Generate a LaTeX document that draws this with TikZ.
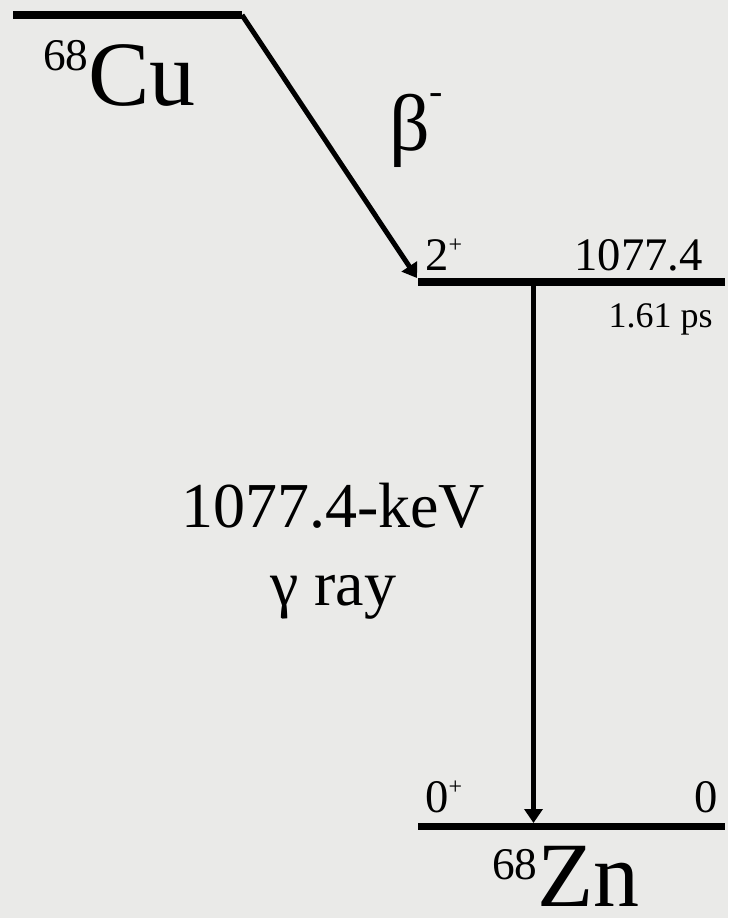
\documentclass[tikz,border=0pt]{standalone}
\usepackage{fontspec}
\usepackage{xcolor}
\usetikzlibrary{arrows.meta,positioning}
\setmainfont{Liberation Serif}
\definecolor{paper}{RGB}{234,234,232}
\newcommand{\chg}[1]{{\fontsize{18}{18}\selectfont\raisebox{13pt}{#1}}}
\newcommand{\massno}[2]{{\fontsize{34}{34}\selectfont\raisebox{#1}{#2}}}

\begin{document}
\begin{tikzpicture}[
    x=0.75pt, y=-0.75pt,
    level/.style={line width=5.6pt},
    trans/.style={line width=3.75pt, -{Triangle[length=10.5pt, width=13.5pt]}},
    big/.style={inner sep=0pt, font=\fontsize{69}{69}\selectfont},
    lbl/.style={inner sep=0pt, font=\fontsize{35}{35}\selectfont},
]
    \fill[paper] (0,0) rectangle (728,918);
    % levels
    \coordinate (cuL) at (13,15);
    \coordinate (cuR) at (242,15);
    \coordinate (exL) at (418,282);
    \coordinate (exR) at (725,282);
    \coordinate (gsL) at (418,826.5);
    \coordinate (gsR) at (725,826.5);
    \coordinate (betaend) at (417,278);
    \coordinate (gtop) at (533.5,282);
    \coordinate (gend) at (533.5,823);
    \draw[level] (cuL) -- (cuR);
    \draw[level] (exL) -- (exR);
    \draw[level] (gsL) -- (gsR);
    \draw[trans] (cuR) -- (betaend);
    \draw[trans] (gtop) -- (gend);

    \node[big, anchor=base west] (cu) at (43,105) {\massno{26pt}{68}Cu};
    \node[big, anchor=base west] (zn) at (492,906) {\massno{20pt}{68}Zn};
    \node[inner sep=0pt, anchor=base west, font=\fontsize{60}{60}\selectfont] (beta) at (389,150) {β\raisebox{34pt}{\fontsize{30}{30}\selectfont-}};
    \node[lbl, anchor=base west] (spin2) at (425,270) {2\chg{+}};
    \node[lbl, anchor=base east] (e2) at (703,270) {1077.4};
    \node[inner sep=0pt, anchor=base east, font=\fontsize{27}{27}\selectfont] (life) at (713,327) {1.61 ps};
    \node[lbl, anchor=base west] (spin0) at (425,812) {0\chg{+}};
    \node[lbl, anchor=base east] (e0) at (718,812) {0};
    \node[inner sep=0pt, anchor=base, align=center, font=\fontsize{48}{58}\selectfont] (gline) at (333,605) {1077.4-keV\\γ ray};
\end{tikzpicture}
\end{document}
